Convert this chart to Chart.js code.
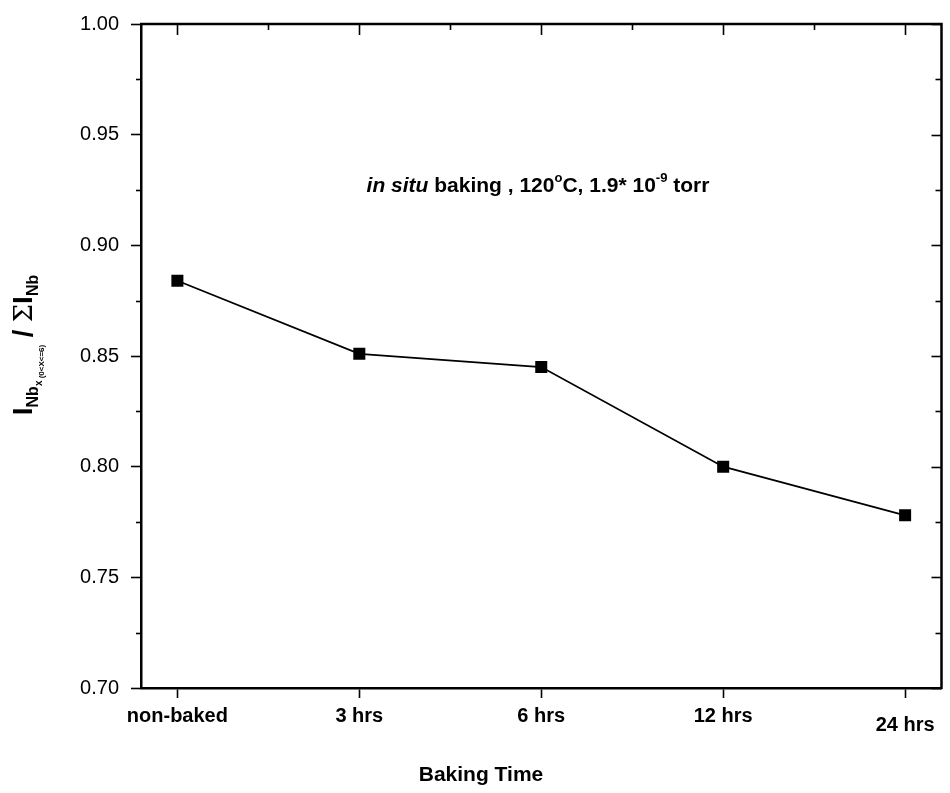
<!DOCTYPE html>
<html>
<head>
<meta charset="utf-8">
<script src="https://cdn.jsdelivr.net/npm/chart.js@4.4.1/dist/chart.umd.min.js"></script>
<style>
  html, body { margin: 0; padding: 0; background: #fff; }
  #wrap { width: 950px; height: 793px; }
</style>
</head>
<body>
<div id="wrap"><canvas id="chart" width="950" height="793"></canvas></div>
<script>
// Baking stages on the x axis
const categories = ['non-baked', '3 hrs', '6 hrs', '12 hrs', '24 hrs'];
// Intensity ratio I(Nb_x, 0<x<=6) / sum I(Nb) for each stage
const ratioValues = [0.884, 0.851, 0.845, 0.800, 0.778];
// Labelled ticks on the y axis
const yTickValues = [0.70, 0.75, 0.80, 0.85, 0.90, 0.95, 1.00];

const FONT = '"Liberation Sans", Arial, Helvetica, sans-serif';
const AXIS_WIDTH = 2.5;

// Frame, minor/inward ticks, axis titles and the note inside the plot
const decorations = {
  id: 'decorations',
  afterDraw(chart) {
    const { ctx, chartArea: a, scales: { x, y } } = chart;
    ctx.save();
    ctx.strokeStyle = '#000';
    ctx.lineCap = 'butt';

    // top and right frame lines
    ctx.lineWidth = AXIS_WIDTH;
    ctx.beginPath();
    ctx.moveTo(a.left - 1, a.top);
    ctx.lineTo(a.right, a.top);
    ctx.lineTo(a.right, a.bottom + 1);
    ctx.stroke();

    const seg = (x1, y1, x2, y2) => { ctx.beginPath(); ctx.moveTo(x1, y1); ctx.lineTo(x2, y2); ctx.stroke(); };
    ctx.lineWidth = 1.6;

    // top axis: inward major ticks at categories, minor ticks between them
    categories.forEach((_, i) => {
      const px = Math.round(x.getPixelForValue(i)) + 0.5;
      seg(px, a.top, px, a.top + 11);
      if (i < categories.length - 1) {
        const mx = Math.round(x.getPixelForValue(i + 0.5)) + 0.5;
        seg(mx, a.top, mx, a.top + 6);
      }
    });

    // right axis: inward ticks; left axis: outward minor ticks
    yTickValues.forEach((v, i) => {
      const py = Math.round(y.getPixelForValue(v)) + 0.5;
      seg(a.right, py, a.right - 10, py);
      if (i < yTickValues.length - 1) {
        const mv = (v + yTickValues[i + 1]) / 2;
        const my = Math.round(y.getPixelForValue(mv)) + 0.5;
        seg(a.right, my, a.right - 6, my);
        seg(a.left, my, a.left - 5, my);
      }
    });

    // x axis title
    ctx.fillStyle = '#000';
    ctx.font = 'bold 21px ' + FONT;
    ctx.textAlign = 'center';
    ctx.textBaseline = 'middle';
    ctx.fillText('Baking Time', 481, 775);

    // y axis title, rotated, with subscripts
    const parts = [
      { t: 'I', f: 'bold 28px ' + FONT, dy: 0 },
      { t: 'Nb', f: 'bold 16px ' + FONT, dy: 6 },
      { t: 'x', f: 'bold 10px ' + FONT, dy: 10 },
      { t: ' (0<X<=6)', f: 'bold 8px ' + FONT, dy: 12 },
      { t: ' / ', f: 'bold 27px ' + FONT, dy: 0 },
      { t: 'Σ', f: '26px "DejaVu Serif", serif', dy: 0 },
      { t: 'I', f: 'bold 28px ' + FONT, dy: 0 },
      { t: 'Nb', f: 'bold 16px ' + FONT, dy: 6 }
    ];
    let total = 0;
    parts.forEach(p => { ctx.font = p.f; p.w = ctx.measureText(p.t).width; total += p.w; });
    ctx.save();
    ctx.translate(32, 345);
    ctx.rotate(-Math.PI / 2);
    ctx.textAlign = 'left';
    ctx.textBaseline = 'alphabetic';
    let cx = -total / 2;
    parts.forEach(p => { ctx.font = p.f; ctx.fillText(p.t, cx, p.dy); cx += p.w; });
    ctx.restore();

    // note inside the plot
    const note = [
      { t: 'in situ', f: 'italic bold 21px ' + FONT, dy: 0 },
      { t: ' baking , 120', f: 'bold 21px ' + FONT, dy: 0 },
      { t: 'o', f: 'bold 13px ' + FONT, dy: -10 },
      { t: 'C, 1.9* 10', f: 'bold 21px ' + FONT, dy: 0 },
      { t: '-9', f: 'bold 13px ' + FONT, dy: -10 },
      { t: ' torr', f: 'bold 21px ' + FONT, dy: 0 }
    ];
    let nx = x.getPixelForValue(1.04);
    const ny = y.getPixelForValue(0.924);
    ctx.textAlign = 'left';
    ctx.textBaseline = 'alphabetic';
    note.forEach(p => { ctx.font = p.f; ctx.fillText(p.t, nx, ny + p.dy); nx += ctx.measureText(p.t).width; });

    ctx.restore();
  }
};

new Chart(document.getElementById('chart'), {
  type: 'line',
  data: {
    datasets: [{
      data: ratioValues.map((v, i) => ({ x: i, y: v })),
      borderColor: '#000',
      borderWidth: 1.8,
      backgroundColor: '#000',
      pointStyle: 'rect',
      pointRadius: 8.5,
      pointBorderWidth: 0,
      pointBackgroundColor: '#000',
      tension: 0,
      fill: false
    }]
  },
  options: {
    responsive: false,
    animation: false,
    devicePixelRatio: 1,
    layout: { padding: { top: 22, right: 3, left: 0, bottom: 0 } },
    plugins: { legend: { display: false }, tooltip: { enabled: false } },
    scales: {
      x: {
        type: 'linear',
        min: -0.2,
        max: 4.2,
        afterBuildTicks: s => { s.ticks = categories.map((_, i) => ({ value: i })); },
        afterFit: s => { s.height = 105; },
        ticks: {
          callback: v => categories[v],
          color: '#000',
          // the last label sits a little lower than the others
          font: c => ({ family: FONT, size: 20, weight: 'bold', lineHeight: c.index === categories.length - 1 ? 2.1 : 1.2 }),
          padding: 6,
          maxRotation: 0,
          autoSkip: false
        },
        grid: { display: true, drawOnChartArea: false, drawTicks: true, tickLength: 10, tickWidth: 1.6, color: '#000' },
        border: { display: true, color: '#000', width: AXIS_WIDTH }
      },
      y: {
        min: 0.70,
        max: 1.00,
        afterBuildTicks: s => { s.ticks = yTickValues.map(v => ({ value: v })); },
        afterFit: s => { s.width = 141; },
        ticks: {
          callback: v => v.toFixed(2),
          color: '#000',
          font: { family: FONT, size: 20 },
          padding: 12
        },
        grid: { display: true, drawOnChartArea: false, drawTicks: true, tickLength: 10, tickWidth: 1.6, color: '#000' },
        border: { display: true, color: '#000', width: AXIS_WIDTH }
      }
    }
  },
  plugins: [decorations]
});
</script>
</body>
</html>
